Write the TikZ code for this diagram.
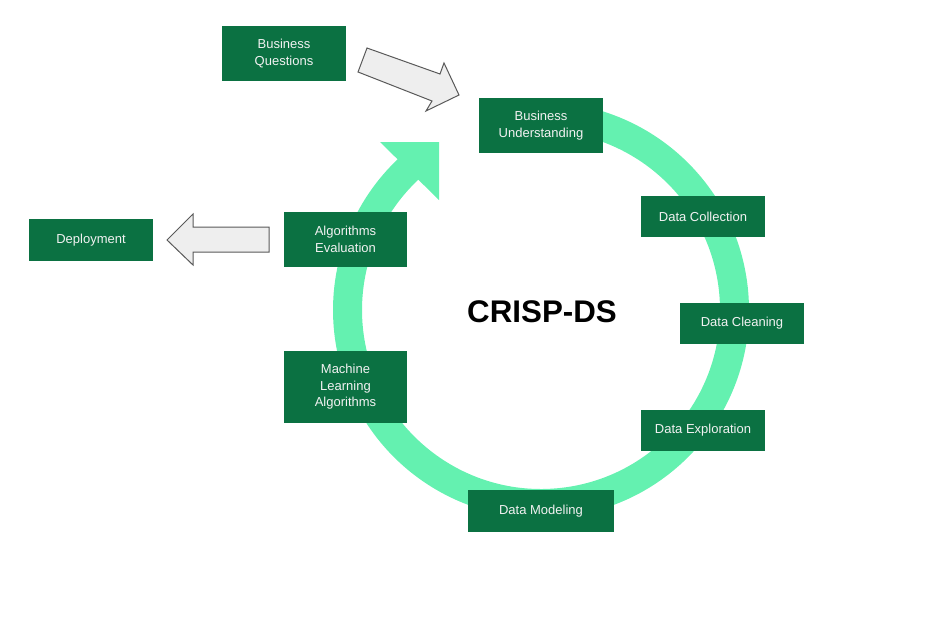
\documentclass[tikz,border=0pt]{standalone}
\usepackage{fontspec}
\setmainfont{Liberation Sans}
\definecolor{boxgreen}{HTML}{0B7142}
\definecolor{ringgreen}{HTML}{64F1B0}
\definecolor{arrowgrey}{HTML}{EEEEEE}
\definecolor{arrowedge}{HTML}{595959}
\definecolor{boxtext}{HTML}{F2F2F2}
\tikzset{
  stagebox/.style={fill=boxgreen, text=boxtext, inner sep=0pt, align=center,
    font=\fontsize{13}{16.5}\selectfont, minimum width=124pt},
  blockarrow/.style={fill=arrowgrey, draw=arrowedge, line width=1pt, line join=miter},
}
\begin{document}
\begin{tikzpicture}[x=1pt, y=-1pt]
\useasboundingbox (0,0) rectangle (937,632);
% cycle ring
\coordinate (ctr) at (541,310);
\draw[ringgreen, line width=29pt] (ctr) ++(-95:193.5) arc[start angle=-95, end angle=227, radius=193.5];
\fill[ringgreen] (380,142) -- (439,142) -- (439,200) -- cycle;
% boxes
\node[stagebox, minimum height=55pt] (bq) at (284,53.5) {Business\\Questions};
\node[stagebox, minimum height=55pt] (bu) at (541,125.5) {Business\\Understanding};
\node[stagebox, minimum height=41pt] (dc) at (703,216.5) {Data Collection};
\node[stagebox, minimum height=41pt] (dl) at (742,323.5) {Data Cleaning};
\node[stagebox, minimum height=41pt] (de) at (703,430.5) {Data Exploration};
\node[stagebox, minimum height=42pt, minimum width=146pt] (dm) at (541,511) {Data Modeling};
\node[stagebox, minimum height=72pt, minimum width=123pt] (ml) at (345.5,387) {Machine\\Learning\\Algorithms};
\node[stagebox, minimum height=55pt, minimum width=123pt] (ae) at (345.5,239.5) {Algorithms\\Evaluation};
\node[stagebox, minimum height=42pt] (dp) at (91,240) {Deployment};
% title
\node[font=\fontsize{31.3}{36}\selectfont\bfseries, inner sep=0pt] (title) at (542,312) {CRISP-DS};
% block arrows
\draw[blockarrow] (367,48) -- (440,74) -- (444,63) -- (459,95) -- (426,111) -- (432,101) -- (358,72) -- cycle;
\draw[blockarrow] (167,240) -- (193,214) -- (193,227) -- (269,227) -- (269,252) -- (193,252) -- (193,265) -- cycle;
\end{tikzpicture}
\end{document}
